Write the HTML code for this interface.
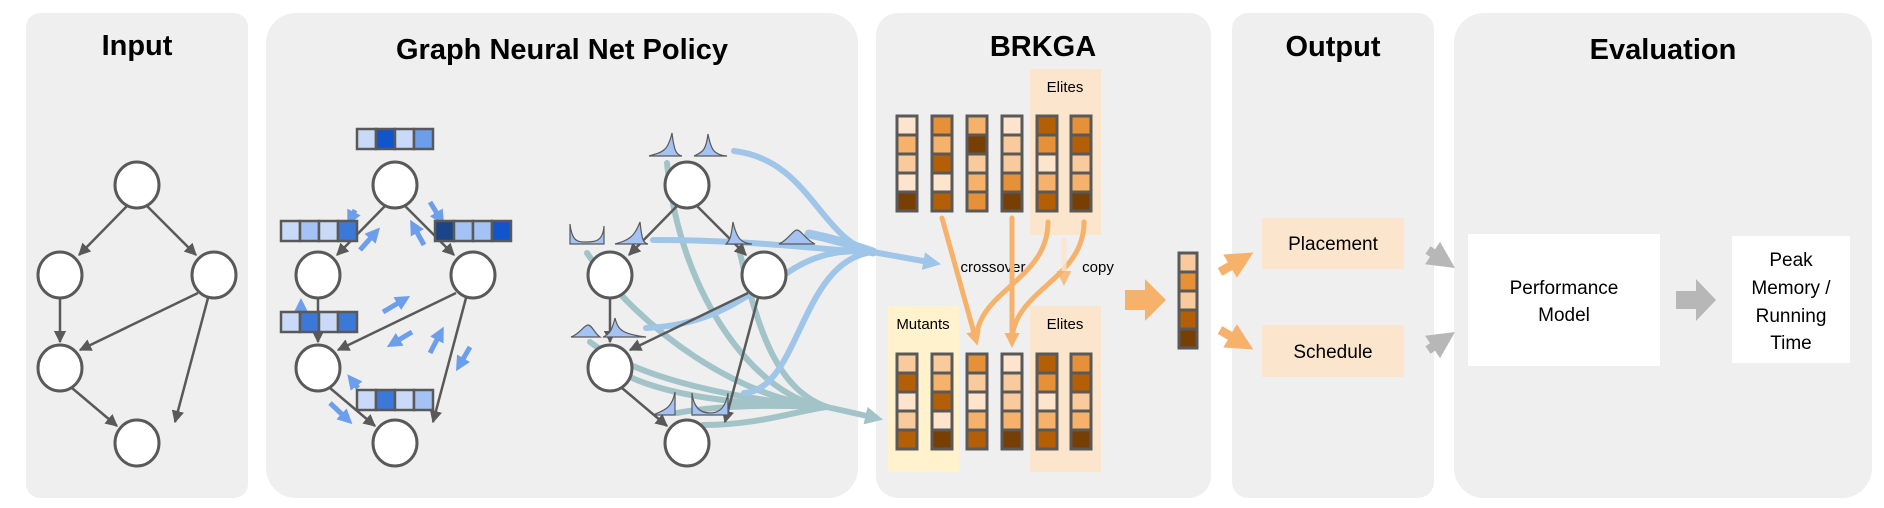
<!DOCTYPE html>
<html><head><meta charset="utf-8"><style>
html,body{margin:0;padding:0;background:#fff;}
svg{display:block;font-family:"Liberation Sans",sans-serif;}
</style></head><body>
<svg width="1884" height="508" viewBox="0 0 1884 508" xmlns="http://www.w3.org/2000/svg">
<defs>
<marker id="ah" viewBox="0 0 10 10" refX="9" refY="5" markerWidth="5" markerHeight="5" orient="auto"><path d="M0,0 L10,5 L0,10 z" fill="#595959"/></marker>
<marker id="bh" viewBox="0 0 10 10" refX="6" refY="5" markerWidth="3" markerHeight="3" orient="auto"><path d="M0,0 L10,5 L0,10 z" fill="#6d9eeb"/></marker>
<marker id="lbh" viewBox="0 0 10 10" refX="6" refY="5" markerWidth="3" markerHeight="3" orient="auto"><path d="M0,0 L10,5 L0,10 z" fill="#9fc5e8"/></marker>
<marker id="tbh" viewBox="0 0 10 10" refX="6" refY="5" markerWidth="3" markerHeight="3" orient="auto"><path d="M0,0 L10,5 L0,10 z" fill="#a2c4c9"/></marker>
<marker id="oh" viewBox="0 0 10 10" refX="6" refY="5" markerWidth="3" markerHeight="3" orient="auto"><path d="M0,0 L10,5 L0,10 z" fill="#f6b26b"/></marker>
</defs>
<!-- panels -->
<rect x="26" y="13" width="222" height="485" rx="14" fill="#efefef"/>
<rect x="266" y="13" width="592" height="485" rx="30" fill="#efefef"/>
<rect x="876" y="13" width="335" height="485" rx="22" fill="#efefef"/>
<rect x="1232" y="13" width="202" height="485" rx="16" fill="#efefef"/>
<rect x="1454" y="13" width="418" height="485" rx="30" fill="#efefef"/>
<g font-weight="bold" font-size="29" text-anchor="middle" fill="#000">
<text x="137" y="55">Input</text>
<text x="562" y="59">Graph Neural Net Policy</text>
<text x="1043" y="56">BRKGA</text>
<text x="1333" y="56">Output</text>
<text x="1663" y="59">Evaluation</text>
</g>

<!-- graph 1 -->
<g stroke="#595959" stroke-width="2.5" fill="none" marker-end="url(#ah)">
<line x1="128" y1="205" x2="79" y2="255"/>
<line x1="146" y1="205" x2="196" y2="255"/>
<line x1="60" y1="298" x2="60" y2="342"/>
<line x1="198" y1="293" x2="80" y2="350"/>
<line x1="72" y1="388" x2="117" y2="426"/>
<line x1="208" y1="298" x2="175" y2="422"/>
</g>
<g fill="#fff" stroke="#595959" stroke-width="3">
<ellipse cx="137" cy="185" rx="22" ry="23"/><ellipse cx="60" cy="275" rx="22" ry="23"/><ellipse cx="214" cy="275" rx="22" ry="23"/><ellipse cx="60" cy="368" rx="22" ry="23"/><ellipse cx="137" cy="443" rx="22" ry="23"/>
</g>

<!-- graph 2 -->
<g stroke="#595959" stroke-width="2.5" fill="none" marker-end="url(#ah)">
<line x1="386" y1="205" x2="337" y2="255"/>
<line x1="404" y1="205" x2="454" y2="255"/>
<line x1="318" y1="298" x2="318" y2="342"/>
<line x1="456" y1="293" x2="338" y2="350"/>
<line x1="330" y1="388" x2="375" y2="426"/>
<line x1="466" y1="298" x2="433" y2="422"/>
</g>
<g fill="#fff" stroke="#595959" stroke-width="3">
<ellipse cx="395" cy="185" rx="22" ry="23"/><ellipse cx="318" cy="275" rx="22" ry="23"/><ellipse cx="473" cy="275" rx="22" ry="23"/><ellipse cx="318" cy="368" rx="22" ry="23"/><ellipse cx="395" cy="443" rx="22" ry="23"/>
</g>
<g stroke="#6d9eeb" stroke-width="5" fill="none" marker-end="url(#bh)">
<line x1="360" y1="250" x2="376" y2="232"/>
<line x1="424" y1="245" x2="413" y2="225"/>
<line x1="430" y1="202" x2="441" y2="220"/>
<line x1="383" y1="312" x2="405" y2="299"/>
<line x1="412" y1="332" x2="392" y2="344"/>
<line x1="430" y1="353" x2="441" y2="332"/>
<line x1="470" y1="347" x2="459" y2="366"/>
<line x1="330" y1="403" x2="348" y2="420"/>
<line x1="358" y1="388" x2="351" y2="379"/>
<line x1="355" y1="210" x2="350" y2="220"/>
<line x1="301" y1="314" x2="301" y2="304"/>
</g>
<g stroke="#595959" stroke-width="2.5">
<rect x="357" y="129" width="19" height="20" fill="#c9daf8"/><rect x="376" y="129" width="19" height="20" fill="#1155cc"/><rect x="395" y="129" width="19" height="20" fill="#c9daf8"/><rect x="414" y="129" width="19" height="20" fill="#6d9eeb"/>
<rect x="281" y="221" width="19" height="20" fill="#c9daf8"/><rect x="300" y="221" width="19" height="20" fill="#a4c2f4"/><rect x="319" y="221" width="19" height="20" fill="#c9daf8"/><rect x="338" y="221" width="19" height="20" fill="#3c78d8"/>
<rect x="435" y="221" width="19" height="20" fill="#1c4587"/><rect x="454" y="221" width="19" height="20" fill="#a4c2f4"/><rect x="473" y="221" width="19" height="20" fill="#a4c2f4"/><rect x="492" y="221" width="19" height="20" fill="#1155cc"/>
<rect x="281" y="312" width="19" height="20" fill="#c9daf8"/><rect x="300" y="312" width="19" height="20" fill="#3c78d8"/><rect x="319" y="312" width="19" height="20" fill="#c9daf8"/><rect x="338" y="312" width="19" height="20" fill="#3c78d8"/>
<rect x="357" y="390" width="19" height="20" fill="#c9daf8"/><rect x="376" y="390" width="19" height="20" fill="#3c78d8"/><rect x="395" y="390" width="19" height="20" fill="#c9daf8"/><rect x="414" y="390" width="19" height="20" fill="#a4c2f4"/>
</g>

<!-- graph 3 flows -->
<g fill="none" stroke="#a2c4c9" stroke-width="6" stroke-linecap="round">
<path d="M667,163 C680,300 760,400 827,407"/>
<path d="M587,253 C640,330 740,400 827,407"/>
<path d="M590,342 C640,380 740,400 827,407"/>
<path d="M630,377 C680,400 760,405 827,407"/>
<path d="M677,413 C720,405 780,405 827,407"/>
<path d="M703,425 C760,425 800,410 827,407"/>
<path d="M740,253 C760,340 780,390 827,407"/>
<path d="M827,407 L876,418" marker-end="url(#tbh)"/>
</g>
<g fill="none" stroke="#9fc5e8" stroke-width="6" stroke-linecap="round">
<path d="M734,151 C810,160 820,240 873,252"/>
<path d="M653,240 C760,240 820,250 873,252"/>
<path d="M809,234 C840,240 860,248 873,252" stroke-width="9"/>
<path d="M787,273 C820,250 850,250 873,252"/>
<path d="M646,328 C720,325 750,290 786,273"/>
<path d="M744,393 C800,390 800,260 873,252"/>
<path d="M873,252 L934,263" marker-end="url(#lbh)"/>
</g>
<g stroke="#595959" stroke-width="2.5" fill="none" marker-end="url(#ah)">
<line x1="678" y1="205" x2="629" y2="255"/>
<line x1="696" y1="205" x2="746" y2="255"/>
<line x1="610" y1="298" x2="610" y2="342"/>
<line x1="748" y1="293" x2="630" y2="350"/>
<line x1="622" y1="388" x2="667" y2="426"/>
<line x1="758" y1="298" x2="725" y2="422"/>
</g>
<g fill="#fff" stroke="#595959" stroke-width="3">
<ellipse cx="687" cy="185" rx="22" ry="23"/><ellipse cx="610" cy="275" rx="22" ry="23"/><ellipse cx="764" cy="275" rx="22" ry="23"/><ellipse cx="610" cy="368" rx="22" ry="23"/><ellipse cx="687" cy="443" rx="22" ry="23"/>
</g>
<g fill="#a4c2f4" stroke="#595959" stroke-width="1.2">
<path d="M649,156 C664,152 668,150 672,133 C674,150 676,155 682,156 Z"/>
<path d="M694,156 C703,152 706,150 708,134 C711,150 714,155 727,156 Z"/>
<path d="M570,244 L570,224 C572,242 578,242 586,242 C594,242 603,242 604,226 L604,244 Z"/>
<path d="M615,244 C628,240 634,238 640,222 C642,240 643,243 648,244 Z"/>
<path d="M726,244 C730,240 731,238 733,222 C737,240 742,243 752,244 Z"/>
<path d="M779,244 C788,240 793,230 797,230 C801,230 806,240 815,244 Z"/>
<path d="M571,337 C580,334 584,325 588,325 C592,325 595,334 600,337 Z"/>
<path d="M603,337 C610,334 612,330 615,318 C618,330 622,334 646,337 Z"/>
<path d="M653,415 C665,410 672,408 675,392 L675,415 Z"/>
<path d="M692,393 C694,412 705,413 710,413 C715,413 725,412 728,393 L728,415 L692,415 Z"/>
</g>

<!-- BRKGA -->
<rect x="1030" y="69" width="71" height="166" fill="#fce5cd"/>
<rect x="1030" y="306" width="71" height="166" fill="#fce5cd"/>
<rect x="888" y="306" width="71" height="166" fill="#fff2cc"/>
<g font-size="15" fill="#000" text-anchor="middle">
<text x="1065" y="92">Elites</text>
<text x="1065" y="329">Elites</text>
<text x="923" y="329">Mutants</text>
<text x="993" y="272">crossover</text>
<text x="1098" y="272">copy</text>
</g>
<g fill="none" stroke="#f6b26b" stroke-width="5" stroke-linecap="round">
<path d="M942,218 L976,340" marker-end="url(#oh)"/>
<path d="M1012,218 L1012,342" marker-end="url(#oh)"/>
<path d="M1048,222 C1048,280 978,290 976,340"/>
<path d="M1084,222 C1084,280 1012,290 1012,342"/>
<path d="M1064,240 L1064,280" stroke="#fce5cd" marker-end="url(#oh)" opacity="0.8"/>
</g>
<g id="chroms" stroke="#595959" stroke-width="3"></g>
<g stroke="#595959" stroke-width="3">
<!-- top -->
<g transform="translate(897,116)">
<rect x="0" y="0" width="20" height="19" fill="#fde5cd"/><rect x="0" y="19" width="20" height="19" fill="#f6b26b"/><rect x="0" y="38" width="20" height="19" fill="#f9cb9c"/><rect x="0" y="57" width="20" height="19" fill="#fde5cd"/><rect x="0" y="76" width="20" height="19" fill="#783f04"/>
</g>
<g transform="translate(932,116)">
<rect x="0" y="0" width="20" height="19" fill="#e69138"/><rect x="0" y="19" width="20" height="19" fill="#f6b26b"/><rect x="0" y="38" width="20" height="19" fill="#b45f06"/><rect x="0" y="57" width="20" height="19" fill="#fde5cd"/><rect x="0" y="76" width="20" height="19" fill="#b45f06"/>
</g>
<g transform="translate(967,116)">
<rect x="0" y="0" width="20" height="19" fill="#f6b26b"/><rect x="0" y="19" width="20" height="19" fill="#783f04"/><rect x="0" y="38" width="20" height="19" fill="#f9cb9c"/><rect x="0" y="57" width="20" height="19" fill="#f6b26b"/><rect x="0" y="76" width="20" height="19" fill="#e69138"/>
</g>
<g transform="translate(1002,116)">
<rect x="0" y="0" width="20" height="19" fill="#fde5cd"/><rect x="0" y="19" width="20" height="19" fill="#f9cb9c"/><rect x="0" y="38" width="20" height="19" fill="#f9cb9c"/><rect x="0" y="57" width="20" height="19" fill="#e69138"/><rect x="0" y="76" width="20" height="19" fill="#783f04"/>
</g>
<g transform="translate(1037,116)">
<rect x="0" y="0" width="20" height="19" fill="#b45f06"/><rect x="0" y="19" width="20" height="19" fill="#e69138"/><rect x="0" y="38" width="20" height="19" fill="#fde5cd"/><rect x="0" y="57" width="20" height="19" fill="#f6b26b"/><rect x="0" y="76" width="20" height="19" fill="#b45f06"/>
</g>
<g transform="translate(1071,116)">
<rect x="0" y="0" width="20" height="19" fill="#e69138"/><rect x="0" y="19" width="20" height="19" fill="#b45f06"/><rect x="0" y="38" width="20" height="19" fill="#f9cb9c"/><rect x="0" y="57" width="20" height="19" fill="#f6b26b"/><rect x="0" y="76" width="20" height="19" fill="#783f04"/>
</g>
<!-- bottom -->
<g transform="translate(897,354)">
<rect x="0" y="0" width="20" height="19" fill="#f9cb9c"/><rect x="0" y="19" width="20" height="19" fill="#b45f06"/><rect x="0" y="38" width="20" height="19" fill="#fde5cd"/><rect x="0" y="57" width="20" height="19" fill="#f9cb9c"/><rect x="0" y="76" width="20" height="19" fill="#b45f06"/>
</g>
<g transform="translate(932,354)">
<rect x="0" y="0" width="20" height="19" fill="#f9cb9c"/><rect x="0" y="19" width="20" height="19" fill="#f6b26b"/><rect x="0" y="38" width="20" height="19" fill="#b45f06"/><rect x="0" y="57" width="20" height="19" fill="#fde5cd"/><rect x="0" y="76" width="20" height="19" fill="#783f04"/>
</g>
<g transform="translate(967,354)">
<rect x="0" y="0" width="20" height="19" fill="#e69138"/><rect x="0" y="19" width="20" height="19" fill="#f9cb9c"/><rect x="0" y="38" width="20" height="19" fill="#fde5cd"/><rect x="0" y="57" width="20" height="19" fill="#f6b26b"/><rect x="0" y="76" width="20" height="19" fill="#b45f06"/>
</g>
<g transform="translate(1002,354)">
<rect x="0" y="0" width="20" height="19" fill="#fde5cd"/><rect x="0" y="19" width="20" height="19" fill="#f9cb9c"/><rect x="0" y="38" width="20" height="19" fill="#f9cb9c"/><rect x="0" y="57" width="20" height="19" fill="#f6b26b"/><rect x="0" y="76" width="20" height="19" fill="#783f04"/>
</g>
<g transform="translate(1037,354)">
<rect x="0" y="0" width="20" height="19" fill="#b45f06"/><rect x="0" y="19" width="20" height="19" fill="#e69138"/><rect x="0" y="38" width="20" height="19" fill="#fde5cd"/><rect x="0" y="57" width="20" height="19" fill="#f6b26b"/><rect x="0" y="76" width="20" height="19" fill="#b45f06"/>
</g>
<g transform="translate(1071,354)">
<rect x="0" y="0" width="20" height="19" fill="#e69138"/><rect x="0" y="19" width="20" height="19" fill="#b45f06"/><rect x="0" y="38" width="20" height="19" fill="#f9cb9c"/><rect x="0" y="57" width="20" height="19" fill="#f6b26b"/><rect x="0" y="76" width="20" height="19" fill="#783f04"/>
</g>
<!-- output chromosome -->
<g transform="translate(1179,253)">
<rect x="0" y="0" width="18" height="19" fill="#f9cb9c"/><rect x="0" y="19" width="18" height="19" fill="#e69138"/><rect x="0" y="38" width="18" height="19" fill="#f9cb9c"/><rect x="0" y="57" width="18" height="19" fill="#b45f06"/><rect x="0" y="76" width="18" height="19" fill="#783f04"/>
</g>
</g>
<!-- big arrows -->
<path d="M1125,290 L1145,290 L1145,279 L1166,300 L1145,321 L1145,310 L1125,310 Z" fill="#f6b26b"/>
<g stroke="#f6b26b" stroke-width="9" fill="none" marker-end="url(#oh)">
<line x1="1220" y1="272" x2="1244" y2="258"/>
<line x1="1220" y1="330" x2="1244" y2="344"/>
</g>
<rect x="1262" y="218" width="142" height="51" fill="#fce5cd"/>
<rect x="1262" y="325" width="142" height="52" fill="#fce5cd"/>
<g font-size="19" text-anchor="middle" fill="#000">
<text x="1333" y="250">Placement</text>
<text x="1333" y="358">Schedule</text>
</g>
<g stroke="#b7b7b7" stroke-width="9" fill="none" marker-end="url(#gh)">
<line x1="1428" y1="250" x2="1446" y2="262"/>
<line x1="1428" y1="350" x2="1446" y2="338"/>
</g>
<defs><marker id="gh" viewBox="0 0 10 10" refX="6" refY="5" markerWidth="3" markerHeight="3" orient="auto"><path d="M0,0 L10,5 L0,10 z" fill="#b7b7b7"/></marker></defs>
<rect x="1468" y="234" width="192" height="132" fill="#fff"/>
<rect x="1732" y="236" width="118" height="127" fill="#fff"/>
<path d="M1676,291 L1696,291 L1696,279 L1716,300 L1696,321 L1696,309 L1676,309 Z" fill="#b7b7b7"/>
<g font-size="19" text-anchor="middle" fill="#000">
<text x="1564" y="294">Performance</text>
<text x="1564" y="321">Model</text>
<text x="1791" y="266">Peak</text>
<text x="1791" y="294">Memory /</text>
<text x="1791" y="322">Running</text>
<text x="1791" y="349">Time</text>
</g>
</svg>
</body></html>
